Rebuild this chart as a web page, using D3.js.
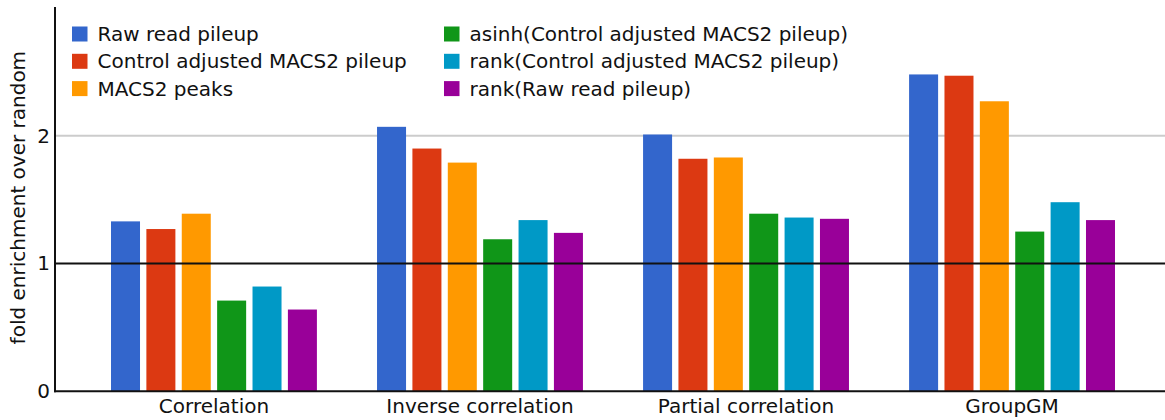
<!DOCTYPE html>
<html>
<head>
<meta charset="utf-8">
<script src="https://cdn.jsdelivr.net/npm/d3@7"></script>
<style>
  html, body { margin: 0; padding: 0; background: #fff; }
  svg { display: block; font-family: "DejaVu Sans", sans-serif; }
</style>
</head>
<body>
<svg id="chart" width="1165" height="420"></svg>
<script>
// Categories (groups along the x axis)
const categories = ["Correlation", "Inverse correlation", "Partial correlation", "GroupGM"];

// Series names, one bar per series in each group
const seriesNames = [
  "Raw read pileup",
  "Control adjusted MACS2 pileup",
  "MACS2 peaks",
  "asinh(Control adjusted MACS2 pileup)",
  "rank(Control adjusted MACS2 pileup)",
  "rank(Raw read pileup)"
];

// Fold enrichment values per series, in category order
const rawReadPileup        = [1.33, 2.07, 2.01, 2.48];
const controlAdjusted      = [1.27, 1.90, 1.82, 2.47];
const macs2Peaks           = [1.39, 1.79, 1.83, 2.27];
const asinhControlAdjusted = [0.71, 1.19, 1.39, 1.25];
const rankControlAdjusted  = [0.82, 1.34, 1.36, 1.48];
const rankRawReadPileup    = [0.64, 1.24, 1.35, 1.34];

const seriesValues = [
  rawReadPileup, controlAdjusted, macs2Peaks,
  asinhControlAdjusted, rankControlAdjusted, rankRawReadPileup
];

const colors = ["#3366cc", "#dc3912", "#ff9900", "#109618", "#0099c6", "#990099"];

const yTicks = [0, 1, 2];
const yLabel = "fold enrichment over random";

const FONT = 20;
const svg = d3.select("#chart");
const plot = { left: 55, right: 1165, top: 8, bottom: 391.3 };

const y = d3.scaleLinear().domain([0, 3]).range([plot.bottom, plot.top]);

const x0 = d3.scaleBand()
  .domain(categories)
  .range([111, 1115])
  .paddingInner(0.226)
  .paddingOuter(0);

const x1 = d3.scaleBand()
  .domain(d3.range(seriesNames.length))
  .range([0, x0.bandwidth()])
  .paddingInner(0.18)
  .paddingOuter(0);

// Gridline at 2 (light grey)
svg.append("line")
  .attr("x1", plot.left).attr("x2", plot.right)
  .attr("y1", y(2)).attr("y2", y(2))
  .attr("stroke", "#cccccc").attr("stroke-width", 2);

// Bars
const groups = svg.append("g").selectAll("g")
  .data(categories)
  .join("g")
  .attr("transform", d => `translate(${x0(d)},0)`);

groups.selectAll("rect")
  .data((d, ci) => seriesValues.map((vals, si) => ({ si, v: vals[ci] })))
  .join("rect")
  .attr("x", d => x1(d.si))
  .attr("width", x1.bandwidth())
  .attr("y", d => y(d.v))
  .attr("height", d => y(0) - y(d.v))
  .attr("fill", d => colors[d.si]);

// Reference line at 1
svg.append("line")
  .attr("x1", plot.left).attr("x2", plot.right)
  .attr("y1", y(1)).attr("y2", y(1))
  .attr("stroke", "#111").attr("stroke-width", 2);

// Y axis
const yAxis = d3.axisLeft(y).tickValues(yTicks).tickFormat(d3.format("d")).tickSize(0).tickPadding(5);
const yg = svg.append("g").attr("transform", `translate(${plot.left},0)`).call(yAxis);
yg.select(".domain").remove();
yg.selectAll("text")
  .attr("font-size", FONT)
  .attr("font-family", "DejaVu Sans, sans-serif")
  .attr("fill", "#111");

svg.append("line")
  .attr("x1", plot.left).attr("x2", plot.left)
  .attr("y1", plot.top - 1).attr("y2", plot.bottom + 1)
  .attr("stroke", "#111").attr("stroke-width", 2);

// X axis
const xAxis = d3.axisBottom(x0).tickSize(0).tickPadding(8);
const xg = svg.append("g").attr("transform", `translate(0,${plot.bottom})`).call(xAxis);
xg.select(".domain").remove();
xg.selectAll("text")
  .attr("font-size", FONT)
  .attr("font-family", "DejaVu Sans, sans-serif")
  .attr("fill", "#111");

svg.append("line")
  .attr("x1", plot.left - 1).attr("x2", plot.right)
  .attr("y1", plot.bottom).attr("y2", plot.bottom)
  .attr("stroke", "#111").attr("stroke-width", 2);

// Y axis label
svg.append("text")
  .attr("transform", `translate(25,${(plot.top + plot.bottom) / 2 - 2}) rotate(-90)`)
  .attr("text-anchor", "middle")
  .attr("font-size", FONT)
  .attr("fill", "#111")
  .text(yLabel);

// Legend in two columns of three
const legend = svg.append("g");
const legendCols = [72, 444];
const legendRows = [34, 61.3, 88.6];
seriesNames.forEach((name, i) => {
  const col = Math.floor(i / 3), row = i % 3;
  const g = legend.append("g")
    .attr("transform", `translate(${legendCols[col]},${legendRows[row]})`);
  g.append("rect")
    .attr("x", 0).attr("y", -7.5)
    .attr("width", 15.5).attr("height", 15)
    .attr("fill", colors[i]);
  g.append("text")
    .attr("x", 25.5).attr("y", 0)
    .attr("dy", "0.35em")
    .attr("font-size", FONT)
    .attr("fill", "#111")
    .text(name);
});
</script>
</body>
</html>
